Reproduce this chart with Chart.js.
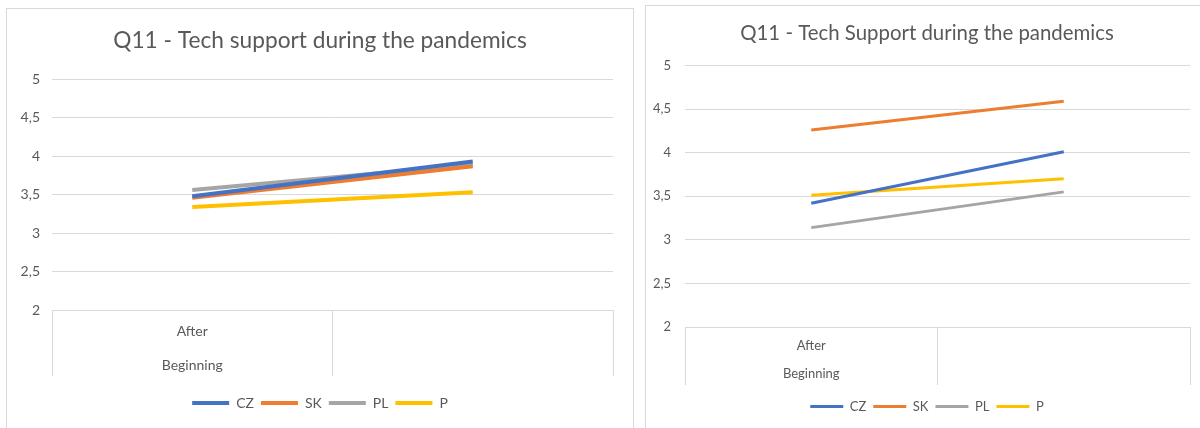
<!DOCTYPE html>
<html>
<head>
<meta charset="utf-8">
<script src="https://cdn.jsdelivr.net/npm/chart.js@4.4.0/dist/chart.umd.min.js"></script>
<style>
  html, body { margin: 0; padding: 0; background: #fff; width: 1200px; height: 428px; overflow: hidden; }
  .frame { position: absolute; border: 1px solid #d9d9d9; background: #fff; }
  #f1 { left: 6px; top: 8px; width: 626px; height: 430px; }
  #f2 { left: 645px; top: 5px; width: 562px; height: 430px; }
  canvas { position: absolute; left: 0; top: 0; }
</style>
</head>
<body>
<div class="frame" id="f1"><canvas id="c1" width="626" height="419"></canvas></div>
<div class="frame" id="f2"><canvas id="c2" width="562" height="422"></canvas></div>
<script>
// Series and category data
const seriesNames = ['CZ', 'SK', 'PL', 'P'];
const categoryLabels = [['After', 'Beginning'], ''];
const yMin = 2;
const yMax = 5;
const yStep = 0.5;

const leftTitle = 'Q11 - Tech support during the pandemics';
const leftCZ = [3.48, 3.93];
const leftSK = [3.46, 3.87];
const leftPL = [3.56, 3.89];
const leftP  = [3.34, 3.53];

const rightTitle = 'Q11 - Tech Support during the pandemics';
const rightCZ = [3.42, 4.01];
const rightSK = [4.26, 4.59];
const rightPL = [3.14, 3.55];
const rightP  = [3.51, 3.70];

// Office palette
const palette = ['#4472C4', '#ED7D31', '#A5A5A5', '#FFC000'];
const textColor = '#595959';
const gridColor = '#d9d9d9';
const FONT = 'Lato, "Open Sans", sans-serif';

Chart.defaults.font.family = FONT;
Chart.defaults.color = textColor;

function makeChart(canvasId, title, values, s) {
  const datasets = seriesNames.map((name, i) => ({
    label: name,
    data: values[i],
    borderColor: palette[i],
    backgroundColor: palette[i],
    borderWidth: s.lineWidth,
    pointRadius: 0,
    pointHoverRadius: 0,
    tension: 0
  }));
  return new Chart(document.getElementById(canvasId), {
    type: 'line',
    data: { labels: categoryLabels, datasets },
    options: {
      responsive: false,
      animation: false,
      events: [],
      layout: { padding: { left: 0, right: 0, top: 0, bottom: s.padBottom } },
      plugins: {
        tooltip: { enabled: false },
        title: {
          display: true,
          text: title,
          color: textColor,
          font: { size: s.titleSize, weight: 'normal', lineHeight: 1.2 },
          padding: { top: s.titleTop, bottom: s.titleBottom }
        },
        legend: {
          position: 'bottom',
          labels: {
            usePointStyle: true,
            pointStyle: 'line',
            pointStyleWidth: s.legendLine,
            padding: 7,
            color: textColor,
            font: { size: s.legendSize }
          }
        }
      },
      scales: {
        x: {
          offset: true,
          border: { display: false },
          grid: {
            offset: true,
            drawOnChartArea: false,
            drawTicks: true,
            tickLength: s.boxDepth,
            color: gridColor,
            lineWidth: 1
          },
          ticks: {
            autoSkip: false,
            maxRotation: 0,
            padding: s.labelPad,
            color: textColor,
            font: { size: s.catSize, lineHeight: s.catLine }
          },
          afterFit: (scale) => { scale.height = s.xHeight; }
        },
        y: {
          min: yMin,
          max: yMax,
          border: { display: false },
          grid: { color: gridColor, lineWidth: 1, drawTicks: false },
          ticks: {
            stepSize: yStep,
            padding: s.yPad,
            color: textColor,
            font: { size: s.tickSize },
            callback: (v) => String(v).replace('.', ',')
          },
          afterFit: (scale) => { scale.width = s.yWidth; }
        },
        // empty margin on the right of the plot area
        gutter: {
          type: 'linear',
          position: 'right',
          border: { display: false },
          grid: { display: false },
          ticks: { display: false },
          afterFit: (scale) => { scale.width = s.rightGap; }
        }
      }
    }
  });
}

makeChart('c1', leftTitle, [leftCZ, leftSK, leftPL, leftP], {
  lineWidth: 4, padBottom: 8, rightGap: 20,
  titleSize: 22.7, titleTop: 18, titleBottom: 25,
  legendLine: 37, legendSize: 14,
  boxDepth: 66, labelPad: -62, catSize: 14, catLine: 34 / 14, xHeight: 79,
  yPad: 12, tickSize: 14, yWidth: 45
});

makeChart('c2', rightTitle, [rightCZ, rightSK, rightPL, rightP], {
  lineWidth: 3, padBottom: 5, rightGap: 18,
  titleSize: 20.4, titleTop: 15, titleBottom: 20,
  legendLine: 33, legendSize: 13,
  boxDepth: 58, labelPad: -53, catSize: 13, catLine: 28 / 13, xHeight: 66,
  yPad: 14, tickSize: 13, yWidth: 39
});
</script>
</body>
</html>
